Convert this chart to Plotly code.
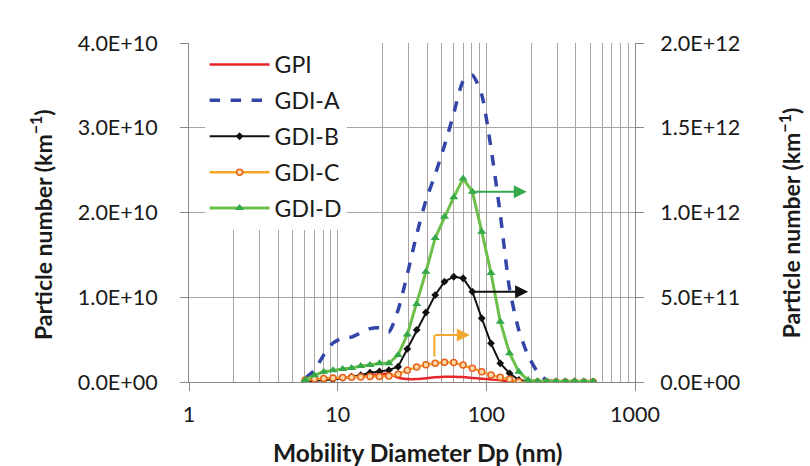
import math
import plotly.graph_objects as go

# EEPS channel mid-point diameters (nm)
diameter_nm = [6.04, 6.98, 8.06, 9.31, 10.8, 12.4, 14.3, 16.5, 19.1, 22.1, 25.5, 29.4,
               34.0, 39.2, 45.3, 52.3, 60.4, 69.8, 80.6, 93.1, 107.5, 124.1, 143.3,
               165.5, 191.1, 220.7, 254.8, 294.3, 339.8, 392.4, 453.2, 523.3]

# Left-axis series (particles / km)
gpi = [1.0e8, 2.0e8, 3.0e8, 4.0e8, 5.0e8, 6.0e8, 7.0e8, 8.0e8, 9.0e8, 1.0e9,
       5.0e8, 3.5e8, 3.5e8, 4.5e8, 5.5e8, 6.2e8, 6.3e8, 5.8e8, 4.8e8, 3.8e8,
       3.0e8, 2.0e8, 1.0e8, 5e7, 2e7, 1e7, 1e7, 1e7, 1e7, 1e7, 1e7, 1e7]
gdi_a = [4.4e8, 1.4e9, 3.2e9, 4.6e9, 5.2e9, 5.3e9, 5.8e9, 6.3e9, 6.4e9, 5.9e9,
         8.5e9, 1.27e10, 1.74e10, 2.14e10, 2.45e10, 2.79e10, 3.17e10, 3.55e10, 3.62e10, 3.39e10,
         2.76e10, 1.98e10, 1.1e10, 6.1e9, 3.1e9, 1.2e9, 2e8, 5e7, 3e7, 2e7, 1e7, 1e7]

# Right-axis series (particles / km)
gdi_b = [5e9, 8e9, 1.0e10, 1.5e10, 2.4e10, 3.2e10, 4.0e10, 5.5e10, 6.2e10, 7.0e10,
         9.0e10, 1.95e11, 3.07e11, 4.1e11, 5.13e11, 5.92e11, 6.21e11, 6.12e11, 5.33e11, 3.76e11,
         2.28e11, 1.1e11, 5.1e10, 1.2e10, 4e9, 2e9, 2e9, 2e9, 2e9, 2e9, 2e9, 2e9]
gdi_c = [1.2e10, 1.8e10, 2.0e10, 2.3e10, 2.6e10, 2.8e10, 3.0e10, 3.2e10, 3.3e10, 3.6e10,
         4.5e10, 7.0e10, 8.8e10, 1.02e11, 1.1e11, 1.17e11, 1.15e11, 1.0e11, 8.1e10, 6.1e10,
         4.1e10, 2.8e10, 1.6e10, 2e9, 5e8, 5e8, 5e8, 5e8, 5e8, 5e8, 5e8, 5e8]
gdi_d = [1.2e10, 4.0e10, 6.0e10, 7.0e10, 7.7e10, 8.3e10, 9.4e10, 1.0e11, 1.1e11, 1.1e11,
         1.6e11, 2.8e11, 4.6e11, 6.5e11, 8.5e11, 9.75e11, 1.09e12, 1.20e12, 1.123e12, 8.87e11,
         6.43e11, 3.56e11, 1.7e11, 6.0e10, 1.2e10, 5e9, 5e9, 5e9, 5e9, 5e9, 5e9, 5e9]

x_tick_vals = [1, 10, 100, 1000]
x_tick_text = ["1", "10", "100", "1000"]
y_tick_vals = [0, 1e10, 2e10, 3e10, 4e10]
y_tick_text = ["0.0E+00", "1.0E+10", "2.0E+10", "3.0E+10", "4.0E+10"]
y2_tick_vals = [0, 5e11, 1e12, 1.5e12, 2e12]
y2_tick_text = ["0.0E+00", "5.0E+11", "1.0E+12", "1.5E+12", "2.0E+12"]

FONT = "Lato"
GRID = "#aaa5a2"
AXIS = "#8e8885"
TXT = "#1a1a1a"

fig = go.Figure()

fig.add_trace(go.Scatter(x=diameter_nm, y=gpi, name="GPI", mode="lines", legendgroup="a",
                         line=dict(color="#e8262a", width=2.5, shape="spline", smoothing=0.6),
                         yaxis="y"))
fig.add_trace(go.Scatter(x=diameter_nm, y=gdi_a, name="GDI-A", mode="lines", legendgroup="b",
                         line=dict(color="#3346a8", width=3.5, dash="dash",
                                   shape="spline", smoothing=0.6),
                         yaxis="y"))
fig.add_trace(go.Scatter(x=diameter_nm, y=gdi_b, name="GDI-B", mode="lines+markers",
                         legendgroup="c",
                         line=dict(color="#111111", width=2),
                         marker=dict(symbol="diamond", size=6, color="#111111"),
                         yaxis="y2"))
fig.add_trace(go.Scatter(x=diameter_nm, y=gdi_c, name="GDI-C", mode="lines+markers",
                         legendgroup="d",
                         line=dict(color="#f5a623", width=2.5),
                         marker=dict(symbol="circle", size=6, color="#fbd9a8",
                                     line=dict(color="#e8601c", width=1.5)),
                         yaxis="y2"))
fig.add_trace(go.Scatter(x=diameter_nm, y=gdi_d, name="GDI-D", mode="lines+markers",
                         legendgroup="e",
                         line=dict(color="#6cc04a", width=3),
                         marker=dict(symbol="triangle-up", size=8, color="#35a84a"),
                         yaxis="y2"))


def log_x(v):
    return math.log10(v)


# Arrows pointing each right-axis series to its axis
fig.add_annotation(x=log_x(187), y=gdi_d[18], xref="x", yref="y2", ax=-53, ay=0,
                   text="", showarrow=True, arrowhead=2, arrowsize=1.3, arrowwidth=2,
                   arrowcolor="#35a84a")
fig.add_annotation(x=log_x(191), y=gdi_b[18], xref="x", yref="y2", ax=-55, ay=0,
                   text="", showarrow=True, arrowhead=2, arrowsize=1.3, arrowwidth=2,
                   arrowcolor="#111111")
fig.add_annotation(x=log_x(44.7), y=2.77e11, xref="x", yref="y2", ax=0, ay=23,
                   text="", showarrow=True, arrowhead=0, arrowwidth=2,
                   arrowcolor="#f0a830")
fig.add_annotation(x=log_x(77.4), y=2.77e11, xref="x", yref="y2", ax=-36, ay=0,
                   text="", showarrow=True, arrowhead=2, arrowsize=1.3, arrowwidth=2,
                   arrowcolor="#f0a830")

# Axis titles
ytitle = "Particle number (km<sup>\u22121</sup>)"
fig.add_annotation(text=ytitle, xref="paper", yref="paper", x=0, y=0.463,
                   xanchor="center", yanchor="middle",
                   xshift=-148, textangle=-90, showarrow=False,
                   font=dict(family=FONT, size=23, color=TXT, weight="bold"))
fig.add_annotation(text=ytitle, xref="paper", yref="paper", x=1, y=0.468,
                   xanchor="center", yanchor="middle",
                   xshift=155, textangle=-90, showarrow=False,
                   font=dict(family=FONT, size=23, color=TXT, weight="bold"))
fig.add_annotation(text="Mobility Diameter Dp (nm)", xref="paper", yref="paper",
                   x=0.512, y=0, xanchor="center", yanchor="middle",
                   yshift=-70, showarrow=False,
                   font=dict(family=FONT, size=24.5, color=TXT, weight="bold"))

fig.update_layout(
    width=810, height=466,
    margin=dict(l=188.5, r=175, t=43, b=84),
    paper_bgcolor="white", plot_bgcolor="white",
    font=dict(family=FONT, size=21.5, color=TXT),
    showlegend=True,
    legend=dict(x=0.035, y=1.0, xanchor="left", yanchor="top",
                bgcolor="white", borderwidth=0, itemwidth=60,
                font=dict(family=FONT, size=23, color=TXT),
                tracegroupgap=3),
    xaxis=dict(type="log", range=[0, 3], tickvals=x_tick_vals, ticktext=x_tick_text,
               showgrid=True, gridcolor=GRID, gridwidth=1,
               minor=dict(dtick="D1", showgrid=True, gridcolor=GRID, gridwidth=1, ticks=""),
               showline=True, linecolor=AXIS, linewidth=1,
               ticks="outside", ticklen=8, tickcolor=AXIS,
               ticklabelstandoff=5, zeroline=False),
    yaxis=dict(range=[0, 4e10], tickvals=y_tick_vals, ticktext=y_tick_text,
               showgrid=True, gridcolor=GRID, gridwidth=1,
               showline=True, linecolor=AXIS, linewidth=1,
               ticks="outside", ticklen=8, tickcolor=AXIS,
               ticklabelstandoff=18, zeroline=False),
    yaxis2=dict(range=[0, 2e12], tickvals=y2_tick_vals, ticktext=y2_tick_text,
                overlaying="y", side="right", showgrid=False,
                showline=True, linecolor=AXIS, linewidth=1,
                ticks="outside", ticklen=8, tickcolor=AXIS,
                ticklabelstandoff=12, zeroline=False),
)

fig.write_html("out.html")
